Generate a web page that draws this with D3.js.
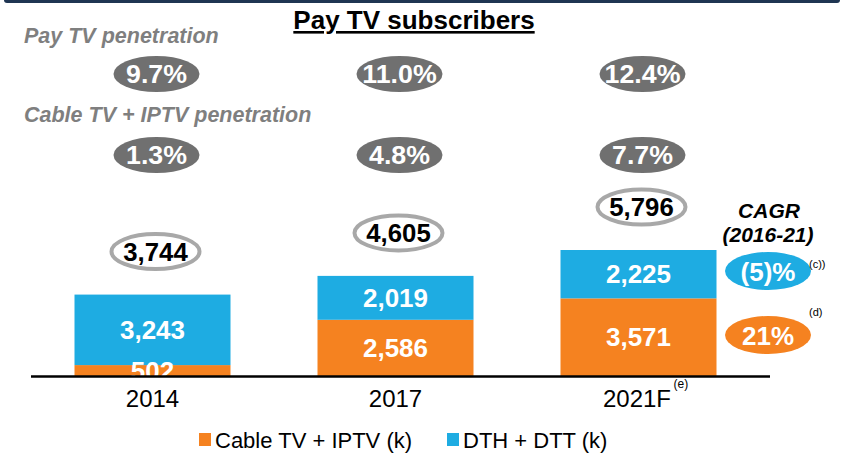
<!DOCTYPE html>
<html>
<head>
<meta charset="utf-8">
<script src="https://cdnjs.cloudflare.com/ajax/libs/d3/7.8.5/d3.min.js"></script>
<style>
  body { margin: 0; background: #fff; }
  text { font-family: "Liberation Sans", Arial, sans-serif; }
</style>
</head>
<body>
<div id="chart"></div>
<script>
// data
var years = ["2014", "2017", "2021F"];
var cableIptv = [502, 2586, 3571];
var dthDtt = [3243, 2019, 2225];
var totals = [3744, 4605, 5796];
var payTvPen = ["9.7%", "11.0%", "12.4%"];
var cablePen = ["1.3%", "4.8%", "7.7%"];
var cagrLabels = ["(5)%", "21%"];
var cagrNotes = ["(c))", "(d)"];
var legendLabels = ["Cable TV + IPTV (k)", "DTH + DTT (k)"];

var orange = "#F58220", blue = "#1EACE2", pillGrey = "#707070", headGrey = "#7F7F7F";

var W = 846, H = 453;
var svg = d3.select("#chart").append("svg")
    .attr("width", W)
    .attr("height", H);

// text helper (sx widens a little where the original lettering is wider)
function label(parent, x, y, str, size, opts) {
    opts = opts || {};
    var t = parent.append("text")
        .attr("transform", "translate(" + x + "," + y + ") scale(" + (opts.sx || 1) + ",1)")
        .attr("font-size", size)
        .attr("text-anchor", opts.anchor || "start")
        .attr("fill", opts.fill || "#000")
        .text(str);
    if (opts.bold) t.attr("font-weight", "bold");
    if (opts.italic) t.attr("font-style", "italic");
    if (opts.underline) t.attr("text-decoration", "underline");
    return t;
}

// top navy rule
svg.append("rect")
    .attr("x", 4).attr("y", -3)
    .attr("width", 836).attr("height", 6)
    .attr("rx", 3)
    .attr("fill", "#1F3552");

// title
label(svg, 414, 29, "Pay TV subscribers", 26, {anchor: "middle", bold: true, underline: true});

// scales
var x = d3.scalePoint().domain(years).range([152.5, 638.5]);
var baseY = 376;
var y = d3.scaleLinear().domain([0, 5796]).range([baseY, 250]);
var barW = 156;

// section headings
label(svg, 24, 43, "Pay TV penetration", 21.5, {bold: true, italic: true, fill: headGrey});
label(svg, 24, 122, "Cable TV + IPTV penetration", 21.5, {bold: true, italic: true, fill: headGrey});

// grey pills
function pills(vals, cy) {
    var g = svg.append("g");
    g.selectAll("ellipse").data(vals).enter().append("ellipse")
        .attr("cx", function(d, i) { return x(years[i]) + 4; })
        .attr("cy", cy)
        .attr("rx", 43).attr("ry", 18)
        .attr("fill", pillGrey);
    vals.forEach(function(d, i) {
        label(g, x(years[i]) + 4, cy + 9, d, 25, {anchor: "middle", bold: true, fill: "#fff", sx: 1.07});
    });
}
pills(payTvPen, 74);
pills(cablePen, 155);

// stacked bars
var stack = years.map(function(yr, i) {
    return { year: yr, cable: cableIptv[i], dth: dthDtt[i], total: totals[i] };
});

svg.selectAll(".bar-cable").data(stack).enter().append("rect")
    .attr("class", "bar-cable")
    .attr("x", function(d) { return x(d.year) - barW / 2; })
    .attr("y", function(d) { return y(d.cable); })
    .attr("width", barW)
    .attr("height", function(d) { return baseY - y(d.cable); })
    .attr("fill", orange);

svg.selectAll(".bar-dth").data(stack).enter().append("rect")
    .attr("class", "bar-dth")
    .attr("x", function(d) { return x(d.year) - barW / 2; })
    .attr("y", function(d) { return y(d.cable + d.dth); })
    .attr("width", barW)
    .attr("height", function(d) { return y(d.cable) - y(d.cable + d.dth); })
    .attr("fill", blue);

var fmt = d3.format(",");

// labels in segments
stack.forEach(function(d) {
    label(svg, x(d.year), (y(d.cable) + y(d.cable + d.dth)) / 2 + 9, fmt(d.dth), 25,
        {anchor: "middle", bold: true, fill: "#fff", sx: 1.04});
    label(svg, x(d.year), (y(d.cable) + baseY) / 2 + 9, fmt(d.cable), 25,
        {anchor: "middle", bold: true, fill: "#fff", sx: 1.04});
});

// total ovals
stack.forEach(function(d) {
    var cx = x(d.year) + 3, cy = y(d.total) - 43;
    svg.append("ellipse")
        .attr("cx", cx).attr("cy", cy)
        .attr("rx", 44).attr("ry", 17.5)
        .attr("fill", "#fff")
        .attr("stroke", "#A8A8A8").attr("stroke-width", 4);
    label(svg, cx, cy + 9, fmt(d.total), 25, {anchor: "middle", bold: true, sx: 1.03});
});

// axis line
svg.append("line")
    .attr("x1", 31).attr("x2", 770)
    .attr("y1", baseY + 0.5).attr("y2", baseY + 0.5)
    .attr("stroke", "#000").attr("stroke-width", 2.5);

// x labels
years.forEach(function(d) {
    label(svg, x(d) - (d == "2021F" ? 1.5 : 0), 407, d, 24, {anchor: "middle"});
});
label(svg, x("2021F") + 35, 388, "(e)", 12);

// CAGR
label(svg, 769, 218, "CAGR", 21, {anchor: "middle", bold: true, italic: true});
label(svg, 768, 242, "(2016-21)", 21, {anchor: "middle", bold: true, italic: true});

var cagrY = [271, 335];
var cagrCol = [blue, orange];
cagrLabels.forEach(function(lbl, i) {
    svg.append("ellipse")
        .attr("cx", 768).attr("cy", cagrY[i])
        .attr("rx", 43).attr("ry", 19)
        .attr("fill", cagrCol[i]);
    label(svg, 768, cagrY[i] + 9.5, lbl, 26, {anchor: "middle", bold: true, fill: "#fff"});
});
label(svg, 809, 268, cagrNotes[0], 11);
label(svg, 809, 316, cagrNotes[1], 11);

// legend
var legX = [199, 447];
legendLabels.forEach(function(lbl, i) {
    svg.append("rect")
        .attr("x", legX[i]).attr("y", 433)
        .attr("width", 12).attr("height", 13)
        .attr("fill", i == 0 ? orange : blue);
    label(svg, legX[i] + 16, 448, lbl, 22);
});
</script>
</body>
</html>
